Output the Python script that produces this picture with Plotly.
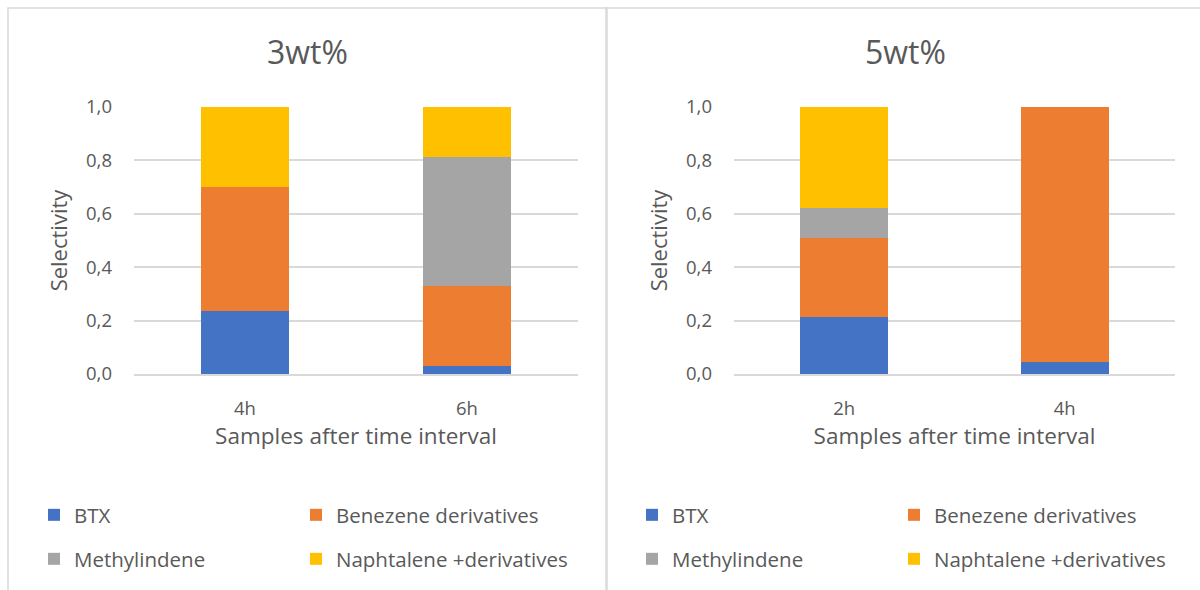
import plotly.graph_objects as go

# ---- data ----
cats_3 = ["4h", "6h"]
cats_5 = ["2h", "4h"]
series_names = ["BTX", "Benezene derivatives", "Methylindene", "Naphtalene +derivatives"]
colors = ["#4472C4", "#ED7D31", "#A5A5A5", "#FFC000"]
vals_3 = {
    "BTX": [0.235, 0.031],
    "Benezene derivatives": [0.465, 0.30],
    "Methylindene": [0.0, 0.48],
    "Naphtalene +derivatives": [0.30, 0.189],
}
vals_5 = {
    "BTX": [0.212, 0.044],
    "Benezene derivatives": [0.298, 0.956],
    "Methylindene": [0.113, 0.0],
    "Naphtalene +derivatives": [0.377, 0.0],
}
titles = ["3wt%", "5wt%"]
ytick_vals = [0, 0.2, 0.4, 0.6, 0.8, 1.0]

W, H = 1200, 590
FONT = "Open Sans"
TXT = "#595959"
GRID = "#D9D9D9"

def px(x):
    return x / W

def py(y):
    return 1 - y / H

fig = go.Figure()

# one legend per entry, laid out as a 2x2 grid under each panel
left_pos = [(34, 515), (296, 515), (34, 559), (296, 559)]
right_pos = [(632, 515), (894, 515), (632, 559), (894, 559)]
leg_common = dict(orientation="h", xanchor="left", yanchor="middle",
                  font=dict(family=FONT, size=20.5, color=TXT),
                  bgcolor="rgba(0,0,0,0)", itemclick=False, itemdoubleclick=False)

legend_layout = {}
for i, name in enumerate(series_names):
    lid = "legend" if i == 0 else f"legend{i + 1}"
    fig.add_trace(go.Bar(x=cats_3, y=vals_3[name], name=name, marker_color=colors[i],
                         marker_line_width=0, xaxis="x", yaxis="y", legend=lid,
                         showlegend=True))
    legend_layout[lid] = dict(x=px(left_pos[i][0]), y=py(left_pos[i][1]), visible=True,
                              **leg_common)
for i, name in enumerate(series_names):
    lid = f"legend{i + 5}"
    fig.add_trace(go.Bar(x=cats_5, y=vals_5[name], name=name, marker_color=colors[i],
                         marker_line_width=0, xaxis="x2", yaxis="y2", legend=lid,
                         showlegend=True))
    legend_layout[lid] = dict(x=px(right_pos[i][0]), y=py(right_pos[i][1]), visible=True,
                              **leg_common)

axis_common_x = dict(showgrid=False, zeroline=False, showline=True, linecolor=GRID, linewidth=1.5,
                     tickfont=dict(family=FONT, size=18.5, color=TXT), ticks="outside", ticklen=0,
                     ticklabelstandoff=17, automargin=False,
                     title=dict(text="Samples after time interval",
                                font=dict(family=FONT, size=22.5, color=TXT), standoff=7))
axis_common_y = dict(range=[0, 1.0], tickvals=ytick_vals, tickformat=".1f", showgrid=True,
                     gridcolor=GRID, gridwidth=1.5, zeroline=False, showline=False,
                     tickfont=dict(family=FONT, size=18.5, color=TXT), ticklabelstandoff=21,
                     automargin=False,
                     title=dict(text="Selectivity", font=dict(family=FONT, size=22, color=TXT),
                                standoff=12))

ydom = [py(374), py(107)]
fig.update_layout(
    width=W, height=H, margin=dict(l=0, r=0, t=0, b=0, autoexpand=False),
    paper_bgcolor="white", plot_bgcolor="white", showlegend=True,
    barmode="stack", bargap=0.6, separators=", ",
    font=dict(family=FONT, color=TXT),
    xaxis=dict(domain=[px(134), px(578)], anchor="y", **axis_common_x),
    yaxis=dict(domain=ydom, anchor="x", **axis_common_y),
    xaxis2=dict(domain=[px(734), px(1175)], anchor="y2", **axis_common_x),
    yaxis2=dict(domain=ydom, anchor="x2", **axis_common_y),
    **legend_layout,
)

# chart titles
for t, xc in zip(titles, [307, 905]):
    fig.add_annotation(text=t, x=px(xc), y=py(52), xref="paper", yref="paper",
                       showarrow=False, xanchor="center", yanchor="middle",
                       font=dict(family=FONT, size=32, color=TXT))

# chart area borders
fig.add_shape(type="rect", xref="paper", yref="paper", x0=px(8), x1=px(607), y0=py(600), y1=py(8),
              line=dict(color=GRID, width=1.5), fillcolor="rgba(0,0,0,0)", layer="below")
fig.add_shape(type="rect", xref="paper", yref="paper", x0=px(606), x1=px(1210), y0=py(600), y1=py(8),
              line=dict(color=GRID, width=1.5), fillcolor="rgba(0,0,0,0)", layer="below")

fig.write_html("out.html")
